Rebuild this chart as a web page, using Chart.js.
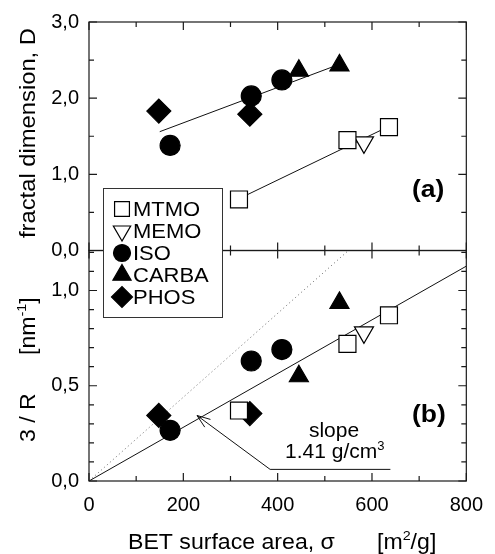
<!DOCTYPE html>
<html>
<head>
<meta charset="utf-8">
<script src="https://cdn.jsdelivr.net/npm/chart.js@4.4.0/dist/chart.umd.min.js"></script>
<style>
    html, body { margin: 0; padding: 0; background: #fff; }
    #wrap { width: 495px; height: 554px; }
</style>
</head>
<body>
<div id="wrap"><canvas id="fractalChart" width="495" height="554"></canvas></div>
<script>
// BET surface area [m2/g] of each sample
const sigmaMTMO = [318, 548, 636],
    sigmaMEMO = [583],
    sigmaISO = [172, 344, 409],
    sigmaCARBA = [445, 531],
    sigmaPHOS = [148, 341];

// panel (a): fractal dimension D
const dimMTMO = [0.67, 1.45, 1.62],
    dimMEMO = [1.42],
    dimISO = [1.38, 2.03, 2.24],
    dimCARBA = [2.36, 2.43],
    dimPHOS = [1.83, 1.79];

// panel (b): 3/R [nm-1]
const invrMTMO = [0.37, 0.72, 0.87],
    invrMEMO = [0.78],
    invrISO = [0.266, 0.63, 0.69],
    invrCARBA = [0.55, 0.935],
    invrPHOS = [0.344, 0.354];

// straight lines
const fitHighX = [150, 531], fitHighY = [1.56, 2.445];
const fitLowX = [318, 636], fitLowY = [0.68, 1.63];
const slopeX = [0, 800], slopeY = [0, 1.128];
const dottedX = [0, 550], dottedY = [0, 1.21];
const arrowX = [229, 384, 639], arrowY = [0.344, 0.061, 0.061];

const seriesNames = ['MTMO', 'MEMO', 'ISO', 'CARBA', 'PHOS'];

const fontFam = '"Liberation Sans", Arial, Helvetica, sans-serif';

function pts(xs, ys) {
    return xs.map((x, i) => ({ x: x, y: ys[i] }));
}

const looks = {
    MTMO: { pointStyle: 'rect', radius: 12, rotation: 0, fill: '#fff', legendR: 10.5 },
    MEMO: { pointStyle: 'triangle', radius: 11, rotation: 180, fill: '#fff', legendR: 10 },
    ISO: { pointStyle: 'circle', radius: 10, rotation: 0, fill: '#000', legendR: 8.5 },
    CARBA: { pointStyle: 'triangle', radius: 11, rotation: 0, fill: '#000', legendR: 10.5 },
    PHOS: { pointStyle: 'rectRot', radius: 12, rotation: 0, fill: '#000', legendR: 10.5 }
};

function markerSet(name, xs, ys, axis) {
    const lk = looks[name];
    return {
        label: name,
        data: pts(xs, ys),
        yAxisID: axis,
        showLine: false,
        pointStyle: lk.pointStyle,
        pointRadius: lk.radius,
        pointRotation: lk.rotation,
        pointBackgroundColor: lk.fill,
        pointBorderColor: '#000',
        pointBorderWidth: 1.2
    };
}

function lineSet(xs, ys, axis, dash, color) {
    return {
        label: '',
        data: pts(xs, ys),
        yAxisID: axis,
        showLine: true,
        pointRadius: 0,
        borderColor: color || '#111',
        borderWidth: 1,
        borderDash: dash || [],
        fill: false
    };
}

const dimSets = [dimMTMO, dimMEMO, dimISO, dimCARBA, dimPHOS];
const invrSets = [invrMTMO, invrMEMO, invrISO, invrCARBA, invrPHOS];
const sigmaSets = [sigmaMTMO, sigmaMEMO, sigmaISO, sigmaCARBA, sigmaPHOS];

const datasets = [];
seriesNames.forEach((n, i) => datasets.push(markerSet(n, sigmaSets[i], dimSets[i], 'yTop')));
seriesNames.forEach((n, i) => datasets.push(markerSet(n, sigmaSets[i], invrSets[i], 'yBot')));
datasets.push(lineSet(fitHighX, fitHighY, 'yTop'));
datasets.push(lineSet(fitLowX, fitLowY, 'yTop'));
datasets.push(lineSet(slopeX, slopeY, 'yBot'));
datasets.push(lineSet(dottedX, dottedY, 'yBot', [1, 3], '#666'));
datasets.push(lineSet(arrowX, arrowY, 'yBot'));

function comma(v) {
    return v.toFixed(1).replace('.', ',');
}

// text pieces, [text, superscript?], drawn from baseline-left
function runs(ctx, parts, x, y, size, stretch, weight) {
    ctx.save();
    ctx.translate(x, y);
    ctx.scale(stretch, 1);
    ctx.fillStyle = '#000';
    ctx.textAlign = 'left';
    ctx.textBaseline = 'alphabetic';
    let cx = 0;
    parts.forEach(p => {
        const s = p[1] ? size * 0.62 : size;
        ctx.font = (weight || 'normal') + ' ' + s + 'px ' + fontFam;
        ctx.fillText(p[0], cx, p[1] ? -size * 0.42 : 0);
        cx += ctx.measureText(p[0]).width;
    });
    ctx.restore();
}

function widthOf(ctx, t, size, stretch) {
    ctx.font = size + 'px ' + fontFam;
    return ctx.measureText(t).width * stretch;
}

const framePlugin = {
    id: 'frame',
    afterDatasetsDraw(chart) {
        const ctx = chart.ctx,
            xs = chart.scales.x,
            panels = [
                { s: chart.scales.yTop, step: 0.5, major: 1 },
                { s: chart.scales.yBot, step: 0.1, major: 0.5 }
            ];
        const L = xs.left, R = xs.right;
        ctx.save();
        ctx.strokeStyle = '#1a1a1a';
        ctx.lineWidth = 1.2;
        panels.forEach(p => {
            const T = p.s.top, B = p.s.bottom;
            ctx.strokeRect(L, T, R - L, B - T);
            ctx.beginPath();
            for (let v = 0; v <= 800; v += 100) {
                const px = xs.getPixelForValue(v),
                    len = v % 200 === 0 ? 8 : 5;
                ctx.moveTo(px, B); ctx.lineTo(px, B - len);
                ctx.moveTo(px, T); ctx.lineTo(px, T + len);
            }
            for (let k = 0; k * p.step <= p.s.max + 1e-9; k++) {
                const v = k * p.step,
                    py = p.s.getPixelForValue(v),
                    isMajor = Math.abs(v / p.major - Math.round(v / p.major)) < 1e-6,
                    len = isMajor ? 8 : 5;
                ctx.moveTo(L, py); ctx.lineTo(L + len, py);
                ctx.moveTo(R, py); ctx.lineTo(R - len, py);
            }
            ctx.stroke();
        });

        // arrow head at the slope label pointer
        const yb = chart.scales.yBot;
        const tx = xs.getPixelForValue(arrowX[0]), ty = yb.getPixelForValue(arrowY[0]),
            nx = xs.getPixelForValue(arrowX[1]), ny = yb.getPixelForValue(arrowY[1]);
        const ang = Math.atan2(ny - ty, nx - tx);
        ctx.lineWidth = 1;
        ctx.strokeStyle = '#111';
        ctx.beginPath();
        [-0.35, 0.35].forEach(d => {
            ctx.moveTo(tx, ty);
            ctx.lineTo(tx + 14 * Math.cos(ang + d), ty + 14 * Math.sin(ang + d));
        });
        ctx.stroke();
        ctx.restore();
    },
    afterDraw(chart) {
        const ctx = chart.ctx;

        // legend box
        ctx.save();
        ctx.fillStyle = '#fff';
        ctx.fillRect(103.5, 188.5, 119, 129);
        ctx.strokeStyle = '#333';
        ctx.lineWidth = 1;
        ctx.strokeRect(103.5, 188.5, 119, 129);
        const rowY = [209, 231, 253, 275, 297];
        seriesNames.forEach((n, i) => {
            const lk = looks[n];
            ctx.fillStyle = lk.fill;
            ctx.strokeStyle = '#000';
            ctx.lineWidth = 1.2;
            Chart.helpers.drawPoint(ctx, {
                pointStyle: lk.pointStyle, radius: lk.legendR,
                rotation: lk.rotation, borderWidth: 1.2
            }, 122, rowY[i]);
            runs(ctx, [[n, false]], 133, rowY[i] + 7, 20, 1.1);
        });
        ctx.restore();

        // panel tags
        runs(ctx, [['(a)', false]], 412, 197, 23, 1.15, 'bold');
        runs(ctx, [['(b)', false]], 412, 422, 23, 1.15, 'bold');

        // slope annotation
        const w = widthOf(ctx, 'slope', 20, 1.05);
        runs(ctx, [['slope', false]], 334 - w / 2, 437, 20, 1.05);
        runs(ctx, [['1.41 g/cm', false], ['3', true]], 285, 458, 20, 1.05);

        // x axis title
        runs(ctx, [['BET surface area, \u03c3', false]], 128, 549, 22, 1.05);
        runs(ctx, [['[m', false], ['2', true], ['/g]', false]], 377, 549, 22, 1.05);

        // y axis titles (rotated)
        ctx.save();
        ctx.translate(35, 238);
        ctx.rotate(-Math.PI / 2);
        runs(ctx, [['fractal dimension, D', false]], 0, 0, 22, 1.08);
        ctx.restore();

        ctx.save();
        ctx.translate(35, 442);
        ctx.rotate(-Math.PI / 2);
        runs(ctx, [['3 / R', false]], 0, 0, 22, 1.05);
        runs(ctx, [['[nm', false], ['-1', true], [']', false]], 87, 0, 22, 1.05);
        ctx.restore();
    }
};

const ctx = document.getElementById('fractalChart').getContext('2d');
const fractalChart = new Chart(ctx, {
    type: 'scatter',
    data: { datasets: datasets },
    options: {
        responsive: false,
        animation: false,
        layout: { padding: { top: 19, right: 19, left: 0, bottom: 0 } },
        plugins: {
            legend: { display: false },
            tooltip: { enabled: false }
        },
        scales: {
            x: {
                type: 'linear',
                min: 0,
                max: 800,
                ticks: {
                    stepSize: 200,
                    padding: 12,
                    color: '#000',
                    font: { family: fontFam, size: 20 }
                },
                grid: { display: false, drawTicks: false },
                border: { display: false },
                afterFit(s) { s.height = 73; }
            },
            yTop: {
                type: 'linear',
                position: 'left',
                stack: 'panels',
                stackWeight: 230,
                weight: 1,
                min: 0,
                max: 3,
                ticks: {
                    stepSize: 1,
                    padding: 10,
                    color: '#000',
                    font: { family: fontFam, size: 20 },
                    callback: v => comma(v)
                },
                grid: { display: false, drawTicks: false },
                border: { display: false },
                afterFit(s) { s.width = 89; }
            },
            yBot: {
                type: 'linear',
                position: 'left',
                stack: 'panels',
                stackWeight: 232,
                weight: 0,
                min: 0,
                max: 1.21,
                ticks: {
                    stepSize: 0.5,
                    padding: 10,
                    color: '#000',
                    font: { family: fontFam, size: 20 },
                    callback: v => Math.abs(v * 2 - Math.round(v * 2)) < 1e-6 ? comma(v) : ''
                },
                grid: { display: false, drawTicks: false },
                border: { display: false },
                afterFit(s) { s.width = 89; }
            }
        }
    },
    plugins: [framePlugin]
});
</script>
</body>
</html>
